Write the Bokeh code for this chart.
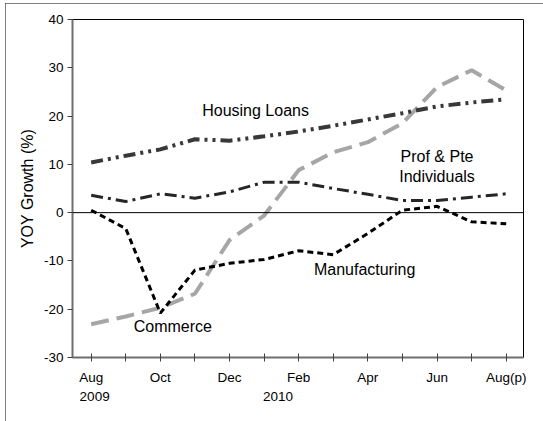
from bokeh.plotting import figure
from bokeh.models import FixedTicker, Span, Range1d, LinearAxis
from bokeh.embed import file_html
from bokeh.resources import INLINE

months = ["Aug", "Sep", "Oct", "Nov", "Dec", "Jan", "Feb", "Mar", "Apr", "May", "Jun", "Jul", "Aug(p)"]
shown_labels = ["Aug", "", "Oct", "", "Dec", "", "Feb", "", "Apr", "", "Jun", "", "Aug(p)"]
years = ["2009", "2010"]
year_pos = [0.1, 5.4]

housing = [10.4, 11.8, 13.1, 15.2, 14.9, 15.8, 16.8, 18.0, 19.3, 20.6, 22.0, 22.8, 23.5]
prof = [3.6, 2.3, 3.9, 3.0, 4.3, 6.3, 6.3, 5.0, 3.8, 2.5, 2.5, 3.2, 3.9]
manufacturing = [0.5, -3.3, -20.8, -11.9, -10.5, -9.7, -7.9, -8.7, -4.3, 0.5, 1.3, -1.9, -2.3]
commerce = [-23.1, -21.5, -19.7, -16.8, -5.7, -0.6, 8.8, 12.5, 14.6, 18.5, 26.0, 29.5, 25.3]

y_ticks = [-30, -20, -10, 0, 10, 20, 30, 40]
y_tick_labels = ["-30", "-20", "-10", "0", "10", "20", "30", "40"]
x = list(range(len(months)))

FONT = "Liberation Sans"

p = figure(width=538, height=418, output_backend="svg", toolbar_location=None,
           x_range=Range1d(-0.54, 12.5), y_range=Range1d(-30, 40),
           min_border_left=67, min_border_right=20, min_border_top=16, min_border_bottom=64)
p.styles = {"outline": "1px solid #555555", "outline-offset": "-1px",
            "margin-left": "5px", "margin-top": "3px"}
p.grid.visible = False
p.outline_line_color = "#000000"
p.outline_line_width = 1

# lines
p.line(x, commerce, line_color="#A6A6A6", line_width=4, line_dash="18 8")
p.line(x, housing, line_color="#383838", line_width=4, line_dash="12 5 3 5 3 5")
p.line(x, prof, line_color="#262626", line_width=3, line_dash="12 5 3 5")
p.line(x, manufacturing, line_color="#000000", line_width=3, line_dash="6 4")

p.add_layout(Span(location=0, dimension="width", line_color="#000000", line_width=1))

# axes
p.yaxis.ticker = FixedTicker(ticks=y_ticks)
p.yaxis.major_label_overrides = {t: lab for t, lab in zip(y_ticks, y_tick_labels)}
p.yaxis.minor_tick_line_color = None
p.yaxis.major_tick_in = 0
p.yaxis.major_tick_out = 5
p.yaxis.major_label_standoff = 4
p.yaxis.axis_label = "YOY Growth (%)"
p.yaxis.axis_label_text_font = FONT
p.yaxis.axis_label_text_font_size = "16px"
p.yaxis.axis_label_text_font_style = "normal"
p.yaxis.axis_label_standoff = 5

p.xaxis.ticker = FixedTicker(ticks=x)
p.xaxis.major_label_overrides = {i: lab for i, lab in enumerate(shown_labels)}
p.xaxis.minor_tick_line_color = None
p.xaxis.major_tick_in = 4
p.xaxis.major_tick_out = 4
p.xaxis.major_label_standoff = 8

for ax in (p.xaxis[0], p.yaxis[0]):
    ax.axis_line_color = "#6E6E6E"
    ax.axis_line_width = 2
    ax.major_tick_line_color = "#404040"
    ax.major_tick_line_width = 1
    ax.major_label_text_font = FONT
    ax.major_label_text_font_size = "13.5px"
    ax.major_label_text_color = "#000000"
    ax.axis_label_text_color = "#000000"

# year labels as a second, line-less axis below
year_axis = LinearAxis(ticker=FixedTicker(ticks=year_pos),
                       major_label_overrides={xp: yr for xp, yr in zip(year_pos, years)})
year_axis.axis_line_color = None
year_axis.major_tick_line_color = None
year_axis.minor_tick_line_color = None
year_axis.major_tick_in = 0
year_axis.major_tick_out = 0
year_axis.major_label_standoff = 4
year_axis.major_label_text_font = FONT
year_axis.major_label_text_font_size = "13.5px"
year_axis.major_label_text_color = "#000000"
p.add_layout(year_axis, "below")

# series labels
from bokeh.models import Label
series_labels = ["Housing Loans", "Prof & Pte", "Individuals", "Commerce", "Manufacturing"]
label_x = [3.21, 10.0, 10.0, 1.23, 6.44]
label_y = [21.2, 11.7, 7.4, -23.5, -11.8]
label_align = ["left", "center", "center", "left", "left"]
for t, lx, ly, al in zip(series_labels, label_x, label_y, label_align):
    p.add_layout(Label(x=lx, y=ly, text=t, text_font=FONT, text_font_size="16px",
                       text_align=al, text_baseline="middle", text_color="#000000"))

open("out.html", "w").write(file_html(p, INLINE))
